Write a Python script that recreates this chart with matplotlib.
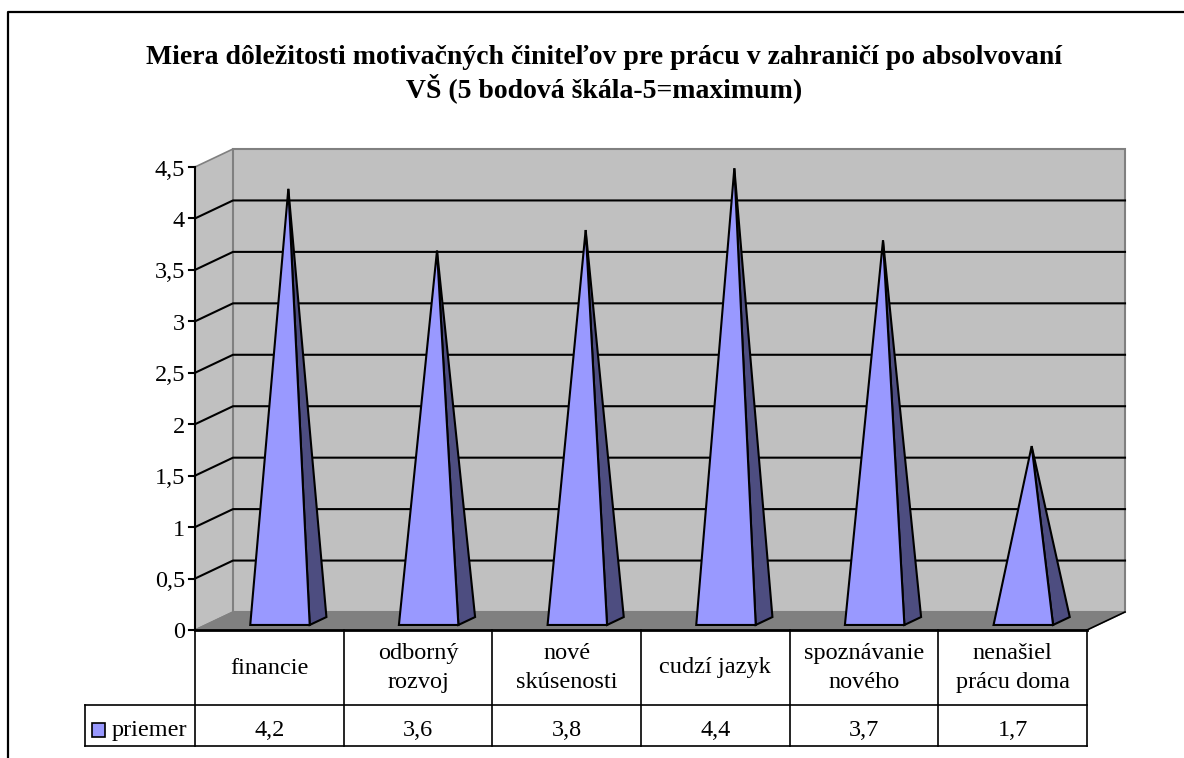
import numpy as np
import matplotlib
matplotlib.use('Agg')
import matplotlib.pyplot as plt
from matplotlib.patches import Polygon, Rectangle

plt.rcParams['font.family'] = ['Liberation Serif', 'DejaVu Sans']

title = "Miera dôležitosti motivačných činiteľov pre prácu v zahraničí po absolvovaní\nVŠ (5 bodová škála-5=maximum)"
categories = ["financie", "odborný\nrozvoj", "nové\nskúsenosti", "cudzí jazyk", "spoznávanie\nnového", "nenašiel\nprácu doma"]
values = [4.2, 3.6, 3.8, 4.4, 3.7, 1.7]
value_labels = ["4,2", "3,6", "3,8", "4,4", "3,7", "1,7"]
series_name = "priemer"
yticks = [0, 0.5, 1, 1.5, 2, 2.5, 3, 3.5, 4, 4.5]
ytick_labels = ["0", "0,5", "1", "1,5", "2", "2,5", "3", "3,5", "4", "4,5"]

W, H = 1184, 758
X0, Y0 = 195, 630          # pixel position of the front origin
XU = (1087 - 195) / len(categories)
YU = (630 - 167) / 4.5
DX = 38 / XU               # depth of the 3d box
DY = 18 / YU

fig = plt.figure(figsize=(W / 100, H / 100), dpi=100)
ax = fig.add_axes([0, 0, 1, 1])
ax.set_xlim(-X0 / XU, (W - X0) / XU)
ax.set_ylim(-(H - Y0) / YU, Y0 / YU)
ax.axis('off')

n = len(categories)
ymax = yticks[-1]
lw = 1.5
text_size = 17.5


def px(x, y):
    # pixel position to axes units, only for frame and table layout
    return (x - X0) / XU, (Y0 - y) / YU


# outer chart frame, only top and left are in the picture
fx0, fy0 = px(8, 760)
fx1, fy1 = px(1186, 12)
ax.plot([fx0, fx0, fx1], [fy0, fy1, fy1], color='black', lw=1.6, clip_on=False)

# walls and floor
ax.add_patch(Polygon([(0, 0), (DX, DY), (DX, ymax + DY), (0, ymax)], fc='#c0c0c0', ec='#808080', lw=1.2))
ax.add_patch(Rectangle((DX, DY), n, ymax, fc='#c0c0c0', ec='#808080', lw=1.5))
ax.add_patch(Polygon([(0, 0), (DX, DY), (n + DX, DY), (n, 0)], fc='#808080', ec='#808080', lw=1))

# gridlines
for t in yticks[1:-1]:
    ax.plot([0, DX, n + DX], [t, t + DY, t + DY], color='black', lw=lw, zorder=2)

# y axis
ax.plot([0, 0], [0, ymax], color='black', lw=lw, zorder=3)
for t, lab in zip(yticks, ytick_labels):
    ax.plot([-6 / XU, 0], [t, t], color='black', lw=lw, zorder=3)
    ax.text(-10 / XU, t - 8.5 / YU, lab, ha='right', va='baseline', fontsize=text_size, color='black')

# pyramids
half = 0.2
d_front, d_mid, d_back = 0.28, 0.5, 0.72
for i, v in enumerate(values):
    c = i + 0.5
    fl = (c - half + d_front * DX, d_front * DY)
    fr = (c + half + d_front * DX, d_front * DY)
    br = (c + half + d_back * DX, d_back * DY)
    apex = (c + d_mid * DX, v + d_mid * DY)
    ax.add_patch(Polygon([fr, br, apex], fc='#4d4d80', ec='black', lw=lw, joinstyle='miter', zorder=4))
    ax.add_patch(Polygon([fl, fr, apex], fc='#9999ff', ec='black', lw=lw, joinstyle='miter', zorder=5))

# data table
y_head = px(0, 705)[1]
y_bot = px(0, 746)[1]
x_lab = px(85, 0)[0]
ax.plot([0, n], [0, 0], color='black', lw=2, zorder=6)
ax.plot([x_lab, n], [y_head, y_head], color='black', lw=1.2, zorder=6)
ax.plot([x_lab, n], [y_bot, y_bot], color='black', lw=1.2, zorder=6)
ax.plot([x_lab, x_lab], [y_head, y_bot], color='black', lw=1.2, zorder=6)
for i in range(n + 1):
    ax.plot([i, i], [0, y_bot], color='black', lw=1.2, zorder=6)
ax.plot([n, n + DX], [0, DY], color='black', lw=1.2, zorder=6)

y_cat = px(0, 668)[1]
y_val = px(0, 736)[1]
for i in range(n):
    ax.text(i + 0.5, y_cat, categories[i], ha='center', va='center', fontsize=text_size, linespacing=1.45)
    ax.text(i + 0.5, y_val, value_labels[i], ha='center', va='baseline', fontsize=text_size)

# legend key in the table
kx0, ky0 = px(92, 737)
kx1, ky1 = px(105, 723)
ax.add_patch(Rectangle((kx0, ky0), kx1 - kx0, ky1 - ky0, fc='#9999ff', ec='black', lw=1.2, zorder=6))
ax.text(px(112, 0)[0], y_val, series_name, ha='left', va='baseline', fontsize=text_size)

tx, ty = px(604, 74)
ax.text(tx, ty, title, ha='center', va='center', fontsize=20, fontweight='bold', linespacing=1.115)

fig.savefig('out.png', dpi=100)
